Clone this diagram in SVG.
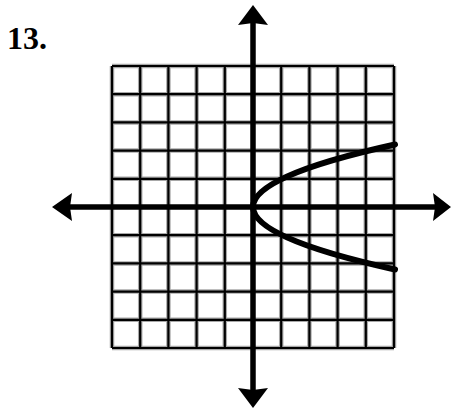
<svg xmlns="http://www.w3.org/2000/svg" width="453" height="410" viewBox="0 0 453 410">
<defs>
<g id="gridlines">
<line x1="112" y1="66" x2="112" y2="348"/>
<line x1="140.2" y1="66" x2="140.2" y2="348"/>
<line x1="168.4" y1="66" x2="168.4" y2="348"/>
<line x1="196.6" y1="66" x2="196.6" y2="348"/>
<line x1="224.8" y1="66" x2="224.8" y2="348"/>
<line x1="281.2" y1="66" x2="281.2" y2="348"/>
<line x1="309.4" y1="66" x2="309.4" y2="348"/>
<line x1="337.6" y1="66" x2="337.6" y2="348"/>
<line x1="365.8" y1="66" x2="365.8" y2="348"/>
<line x1="394" y1="66" x2="394" y2="348"/>
<line x1="112" y1="66" x2="394" y2="66"/>
<line x1="112" y1="94.2" x2="394" y2="94.2"/>
<line x1="112" y1="122.4" x2="394" y2="122.4"/>
<line x1="112" y1="150.6" x2="394" y2="150.6"/>
<line x1="112" y1="178.8" x2="394" y2="178.8"/>
<line x1="112" y1="235.2" x2="394" y2="235.2"/>
<line x1="112" y1="263.4" x2="394" y2="263.4"/>
<line x1="112" y1="291.6" x2="394" y2="291.6"/>
<line x1="112" y1="319.8" x2="394" y2="319.8"/>
<line x1="112" y1="348" x2="394" y2="348"/>
</g>
</defs>
<style>
.halo{stroke:#a8a8a8;stroke-width:4.5}
.core{stroke:#000;stroke-width:2.2}
.axis{stroke:#000;stroke-width:5.5;fill:none}
.head{fill:#000}
.curve{stroke:#000;stroke-width:6;fill:none;stroke-linecap:round}
.title{font-family:"Liberation Serif",serif;font-weight:bold;font-size:32px;fill:#000}
</style>
<rect width="453" height="410" fill="#fff"/>
<text class="title" x="7" y="49">13.</text>
<g id="grid">
<use href="#gridlines" class="halo"/>
<use href="#gridlines" class="core"/>
</g>
<g id="axes">
<line class="axis" x1="68" y1="207" x2="438" y2="207"/>
<line class="axis" x1="253" y1="22" x2="253" y2="392"/>
<polygon class="head" points="52,207 72,193 70,207 72,221"/>
<polygon class="head" points="451,207 433,193 435,207 433,221"/>
<polygon class="head" points="253,5 238,25 253,23 268,25"/>
<polygon class="head" points="253,408 238,388 253,390 268,388"/>
</g>
<g id="curve">
<path class="curve" d="M395,144.5 Q111,207 395,269.5"/>
</g>
</svg>
